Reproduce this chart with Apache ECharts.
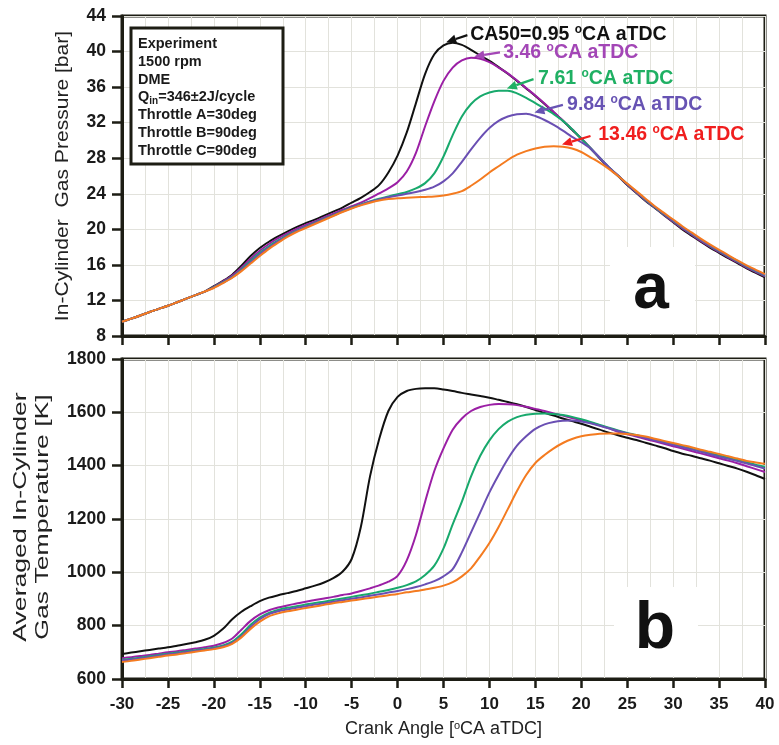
<!DOCTYPE html>
<html><head><meta charset="utf-8">
<script src="https://cdn.jsdelivr.net/npm/echarts@6/dist/echarts.min.js"></script>
<style>html,body{margin:0;padding:0;background:#fff}#c{width:779px;height:745px}</style>
</head><body><div id="c"></div>
<script>
// ---------------- DATA ----------------
const crankAngle = [-30,-29,-28,-27,-26,-25,-24,-23,-22,-21,-20,-19,-18,-17,-16,-15,-14,-13,-12,-11,-10,-9,-8,-7,-6,-5,-4,-3,-2,-1,0,1,2,3,4,5,6,7,8,9,10,11,12,13,14,15,16,17,18,19,20,21,22,23,24,25,26,27,28,29,30,31,32,33,34,35,36,37,38,39,40];

const seriesNames = ['CA50=0.95 °CA aTDC','3.46 °CA aTDC','7.61 °CA aTDC','9.84 °CA aTDC','13.46 °CA aTDC'];

// In-cylinder gas pressure [bar]
const pressure095 = [9.6,9.95,10.3,10.7,11.05,11.4,11.8,12.2,12.6,13.0,13.6,14.2,14.9,15.9,17.0,17.9,18.6,19.2,19.75,20.25,20.7,21.1,21.55,22.0,22.45,23.0,23.55,24.2,25.0,26.4,28.3,30.9,34.2,37.5,39.7,40.7,41.0,40.75,40.2,39.55,38.95,38.25,37.5,36.7,35.85,35.0,34.1,33.15,32.2,31.2,30.2,29.1,28.0,26.9,26.0,25.0,24.1,23.2,22.4,21.6,20.8,20.0,19.3,18.6,17.95,17.35,16.75,16.2,15.6,15.1,14.6];
const pressure346 = [9.6,9.95,10.3,10.7,11.05,11.4,11.8,12.2,12.6,13.0,13.55,14.15,14.8,15.7,16.7,17.6,18.35,19.0,19.55,20.05,20.5,20.9,21.35,21.75,22.2,22.6,23.0,23.5,24.05,24.6,25.3,26.5,28.6,31.6,34.4,36.7,38.2,39.0,39.3,39.2,38.8,38.2,37.55,36.75,35.9,35.05,34.15,33.2,32.25,31.25,30.25,29.15,28.05,26.95,26.05,25.05,24.15,23.25,22.45,21.65,20.85,20.1,19.4,18.7,18.05,17.45,16.85,16.3,15.7,15.2,14.7];
const pressure761 = [9.6,9.95,10.3,10.7,11.05,11.4,11.8,12.2,12.6,13.0,13.5,14.05,14.65,15.5,16.45,17.35,18.1,18.75,19.35,19.85,20.3,20.75,21.2,21.6,22.05,22.45,22.8,23.15,23.45,23.7,23.95,24.2,24.6,25.2,26.3,28.2,30.6,32.7,34.1,34.95,35.4,35.6,35.6,35.3,34.8,34.2,33.6,32.95,32.2,31.25,30.2,29.15,28.05,27.0,26.05,25.1,24.2,23.3,22.5,21.7,20.95,20.2,19.5,18.8,18.15,17.55,16.95,16.4,15.8,15.3,14.8];
const pressure984 = [9.6,9.95,10.3,10.7,11.05,11.4,11.8,12.2,12.6,13.0,13.45,14.0,14.6,15.4,16.3,17.2,17.95,18.65,19.25,19.8,20.25,20.7,21.15,21.55,22.0,22.4,22.75,23.1,23.35,23.6,23.8,24.0,24.2,24.45,24.8,25.4,26.3,27.6,29.0,30.3,31.4,32.2,32.7,32.95,33.0,32.75,32.3,31.75,31.1,30.4,29.8,29.1,28.05,27.0,26.05,25.1,24.2,23.35,22.55,21.75,21.0,20.25,19.55,18.85,18.2,17.6,17.0,16.45,15.85,15.35,14.85];
const pressure1346 = [9.6,9.95,10.3,10.7,11.05,11.4,11.8,12.2,12.6,13.0,13.4,13.95,14.55,15.3,16.15,17.0,17.8,18.5,19.15,19.7,20.15,20.6,21.05,21.5,21.95,22.35,22.7,23.0,23.25,23.4,23.5,23.55,23.6,23.65,23.7,23.8,24.0,24.3,24.9,25.6,26.4,27.1,27.8,28.4,28.8,29.1,29.3,29.35,29.3,29.1,28.7,28.1,27.5,26.8,26.0,25.15,24.3,23.45,22.6,21.85,21.1,20.35,19.65,18.95,18.3,17.7,17.1,16.5,15.95,15.45,14.95];

// Averaged in-cylinder gas temperature [K]
const temp095 = [694,699,704,709,714,719,725,731,738,747,762,788,824,852,873,892,905,914,922,930,940,950,962,978,1002,1050,1170,1360,1500,1605,1658,1680,1688,1690,1690,1686,1680,1673,1667,1661,1655,1647,1639,1630,1620,1609,1598,1588,1577,1567,1557,1546,1535,1524,1514,1505,1496,1486,1476,1466,1455,1445,1437,1428,1419,1409,1399,1389,1377,1364,1350];
const temp346 = [678,682,686,690,695,700,704,709,714,719,725,735,752,785,818,842,858,868,876,883,890,896,902,908,915,921,930,940,951,965,987,1045,1140,1265,1380,1465,1535,1577,1605,1620,1628,1631,1630,1627,1621,1613,1605,1596,1588,1579,1570,1561,1551,1540,1527,1518,1509,1500,1491,1482,1473,1464,1455,1446,1437,1428,1419,1409,1398,1387,1376];
const temp761 = [672,676,680,685,690,695,699,704,708,713,718,726,740,768,803,830,848,859,867,873,879,885,890,896,902,908,914,920,927,934,942,952,966,990,1025,1090,1180,1265,1360,1437,1495,1537,1565,1582,1591,1595,1596,1594,1590,1583,1574,1564,1553,1542,1532,1523,1515,1506,1498,1489,1481,1472,1464,1455,1447,1438,1430,1421,1413,1404,1396];
const temp984 = [669,673,677,682,687,692,696,701,705,710,715,722,735,760,795,824,843,854,861,867,873,879,884,890,895,901,906,912,918,924,930,937,945,955,967,985,1012,1075,1150,1225,1300,1365,1425,1475,1510,1538,1555,1564,1568,1569,1566,1559,1550,1540,1530,1521,1513,1504,1495,1487,1478,1469,1461,1452,1443,1434,1426,1417,1408,1399,1389];
const temp1346 = [664,668,673,678,683,688,692,697,702,707,712,719,732,756,788,815,835,846,854,860,866,872,878,884,889,894,899,904,909,914,919,925,930,936,942,950,963,985,1015,1060,1110,1170,1237,1305,1365,1410,1440,1465,1485,1500,1510,1516,1520,1521,1521,1519,1515,1509,1501,1493,1485,1477,1469,1460,1452,1444,1435,1427,1418,1412,1407];

const pressureTicks = [8, 44, 4];      // min, max, step
const temperatureTicks = [600, 1800, 200];
const angleTicks = [-30, 40, 5];

const infoLines = ['Experiment','1500 rpm','DME','Q{sub|in}=346\u00B12J/cycle','Throttle A=30deg','Throttle B=90deg','Throttle C=90deg'];
const pressureTitle = 'In-Cylinder  Gas Pressure [bar]';
const temperatureTitle = 'Averaged In-Cylinder\nGas Temperature [K]';

// ---------------- STYLE / LAYOUT ----------------
const lineColors = ['#111111','#9b1fa5','#18a96c','#6a4fb3','#f47b20'];
const labelColors = ['#111111','#a346b6','#1fb063','#6753b3','#f01e1e'];
const axisColor = '#1d1d14';
const gridColor = '#e2e2dc';
const FONT = 'Liberation Sans, Arial, sans-serif';

const chart = echarts.init(document.getElementById('c'), null, {renderer:'canvas'});

function pairs(arr){ return crankAngle.map((a,i)=>[a, arr[i]]); }

function xAxisCfg(gridIndex, showLabels){
  return {
    type:'value', gridIndex, min:angleTicks[0], max:angleTicks[1], interval:angleTicks[2],
    axisLine:{show:true, onZero:false, lineStyle:{color:axisColor, width:3}},
    axisTick:{show:true, inside:false, length:9, lineStyle:{color:axisColor, width:2.5}},
    minorTick:{show:false, splitNumber:2},
    splitLine:{show:true, lineStyle:{color:gridColor, width:1}},
    minorSplitLine:{show:true, lineStyle:{color:gridColor, width:1}},
    axisLabel:{show:showLabels, fontFamily:FONT, fontWeight:'bold', fontSize:17, color:'#1a1a1a', margin:17, formatter:v=>String(v)},
    name: showLabels ? '{t|Crank Angle [}{s|o}{t|CA aTDC]}' : '',
    nameLocation:'middle', nameGap:41,
    nameTextStyle:{rich:{
      t:{fontFamily:FONT, fontSize:18, color:'#222'},
      s:{fontFamily:FONT, fontSize:11, color:'#222', verticalAlign:'top', lineHeight:18}
    }}
  };
}
function yAxisCfg(gridIndex, ticks){
  return {
    type:'value', gridIndex, min:ticks[0], max:ticks[1], interval:ticks[2],
    axisLine:{show:true, onZero:false, lineStyle:{color:axisColor, width:3}},
    axisTick:{show:true, inside:false, length:10, lineStyle:{color:axisColor, width:2.5}},
    splitLine:{show:true, lineStyle:{color:gridColor, width:1}},
    axisLabel:{fontFamily:FONT, fontWeight:'bold', fontSize:17.5, color:'#1a1a1a', margin:16, formatter:v=>String(v)}
  };
}

const pressureSets = [pressure095, pressure346, pressure761, pressure984, pressure1346];
const tempSets = [temp095, temp346, temp761, temp984, temp1346];

const series = [];
pressureSets.forEach((arr,i)=>series.push({
  name:seriesNames[i], type:'line', xAxisIndex:0, yAxisIndex:0, data:pairs(arr),
  showSymbol:false, smooth:0.3, z:3+i,
  lineStyle:{color:lineColors[i], width:2}, itemStyle:{color:lineColors[i]}
}));
tempSets.forEach((arr,i)=>series.push({
  name:seriesNames[i], type:'line', xAxisIndex:1, yAxisIndex:1, data:pairs(arr),
  showSymbol:false, smooth:0.3, z:3+i,
  lineStyle:{color:lineColors[i], width:2}, itemStyle:{color:lineColors[i]}
}));

chart.setOption({
  animation:false,
  backgroundColor:'#ffffff',
  grid:[
    {left:122, top:16, width:643, height:320, show:true, borderColor:axisColor, borderWidth:3, containLabel:false},
    {left:122, top:359, width:643, height:320, show:true, borderColor:axisColor, borderWidth:3, containLabel:false}
  ],
  xAxis:[xAxisCfg(0,false), xAxisCfg(1,true)],
  yAxis:[yAxisCfg(0, pressureTicks), yAxisCfg(1, temperatureTicks)],
  series
});

// ---------------- ANNOTATIONS (placed in data space of the pressure panel) ----------------
const annotations = [
  {pre:'CA50=0.95 ', at:[7.9,41.95], from:[7.6,41.85], to:[5.3,41.05]},
  {pre:'3.46 ',      at:[11.5,39.85], from:[11.15,39.9], to:[8.35,39.45]},
  {pre:'7.61 ',      at:[15.3,37.0], from:[14.8,36.9], to:[11.9,35.85]},
  {pre:'9.84 ',      at:[18.45,34.0], from:[18.0,34.0], to:[14.9,33.15]},
  {pre:'13.46 ',     at:[21.85,30.6], from:[21.0,30.5], to:[17.9,29.55]}
];

const gfx = [];
annotations.forEach((a,i)=>{
  const c = labelColors[i];
  const p0 = chart.convertToPixel({gridIndex:0}, a.from);
  const p1 = chart.convertToPixel({gridIndex:0}, a.to);
  const pt = chart.convertToPixel({gridIndex:0}, a.at);
  const dx = p1[0]-p0[0], dy = p1[1]-p0[1];
  const L = Math.sqrt(dx*dx+dy*dy), ux = dx/L, uy = dy/L;
  const hl = 10, hw = 4.5;
  const bx = p1[0]-ux*hl, by = p1[1]-uy*hl;
  gfx.push({type:'line', z:20, shape:{x1:p0[0], y1:p0[1], x2:bx, y2:by}, style:{stroke:c, lineWidth:2.2}});
  gfx.push({type:'polygon', z:20, shape:{points:[[p1[0],p1[1]],[bx-uy*hw, by+ux*hw],[bx+uy*hw, by-ux*hw]]}, style:{fill:c}});
  gfx.push({type:'text', z:20, x:pt[0], y:pt[1], style:{
    text:'{t|'+a.pre+'}{s|o}{t|CA aTDC}', align:'left', verticalAlign:'middle',
    rich:{
      t:{fontFamily:FONT, fontWeight:'bold', fontSize:19.5, fill:c, lineHeight:22},
      s:{fontFamily:FONT, fontWeight:'bold', fontSize:12, fill:c, verticalAlign:'top', lineHeight:22}
    }
  }});
});

// axis titles (rotated, stretched along the text like the original)
gfx.push({type:'text', z:10, x:63, y:176, rotation:Math.PI/2, scaleX:1.17, style:{
  text:pressureTitle, fontFamily:FONT, fontSize:18, fill:'#222', align:'center', verticalAlign:'middle'}});
gfx.push({type:'text', z:10, x:32, y:517, rotation:Math.PI/2, scaleX:1.4, style:{
  text:temperatureTitle, fontFamily:FONT, fontSize:19, lineHeight:22, fill:'#222', align:'center', verticalAlign:'middle'}});

// info box
gfx.push({type:'rect', z:15, shape:{x:131, y:28, width:152, height:136}, style:{fill:'#ffffff', stroke:axisColor, lineWidth:3}});
gfx.push({type:'text', z:16, x:138, y:35, style:{
  text: infoLines.map(s=> s.indexOf('{')>=0 ? s.replace(/^Q/, '{b|Q}').replace(/=346.*$/, m=>'{b|'+m+'}') : '{b|'+s+'}').join('\n'),
  align:'left', verticalAlign:'top',
  rich:{
    b:{fontFamily:FONT, fontWeight:'bold', fontSize:14.5, fill:'#1a1a1a', lineHeight:17.8},
    sub:{fontFamily:FONT, fontWeight:'bold', fontSize:10, fill:'#1a1a1a', verticalAlign:'bottom', lineHeight:17.8}
  }
}});

// panel letters
gfx.push({type:'rect', z:1, shape:{x:610, y:247, width:85, height:86}, style:{fill:'#ffffff'}});
gfx.push({type:'text', z:16, x:651, y:290, style:{text:'a', fontFamily:FONT, fontWeight:'bold', fontSize:64, fill:'#111111', align:'center', verticalAlign:'middle'}});
gfx.push({type:'rect', z:1, shape:{x:614, y:587, width:84, height:89}, style:{fill:'#ffffff'}});
gfx.push({type:'text', z:16, x:655, y:630, style:{text:'b', fontFamily:FONT, fontWeight:'bold', fontSize:66, fill:'#111111', align:'center', verticalAlign:'middle'}});

chart.setOption({graphic:gfx});
</script>
</body></html>
